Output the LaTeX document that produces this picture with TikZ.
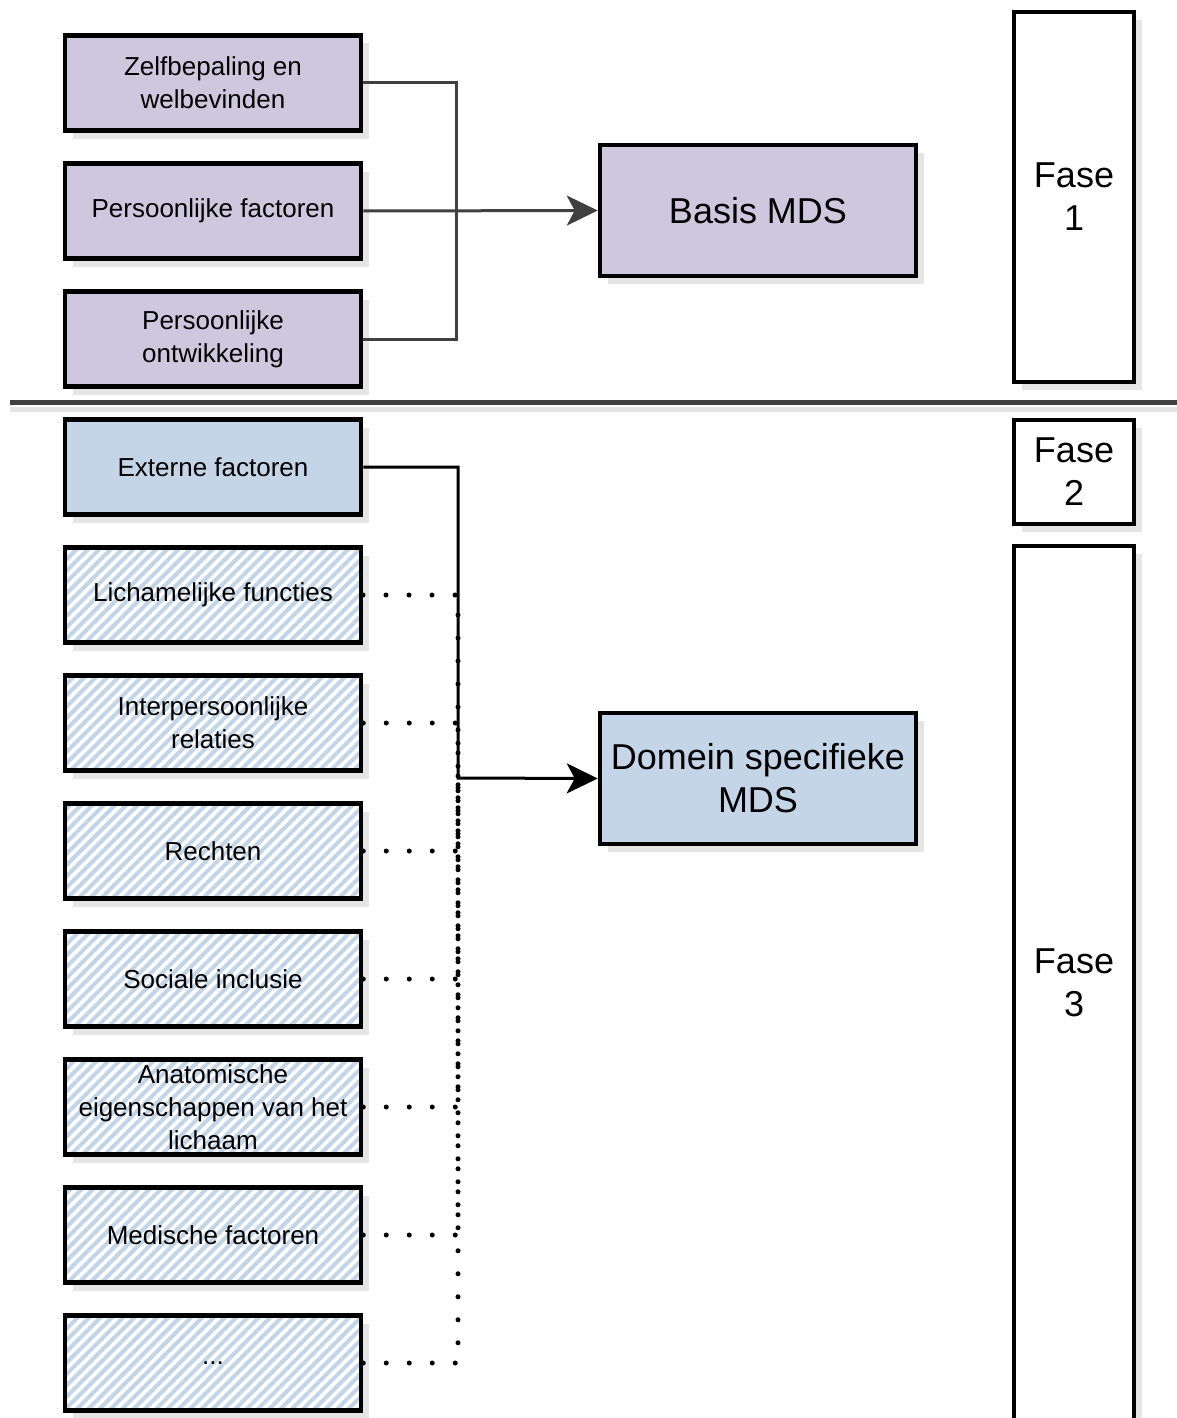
\documentclass[tikz,border=0pt]{standalone}
\usepackage{fontspec}
\setmainfont{Liberation Sans}
\usetikzlibrary{arrows.meta,shadows,patterns.meta}

\definecolor{lila}{RGB}{207,199,222}
\definecolor{lichtblauw}{RGB}{196,213,232}
\definecolor{streep}{RGB}{194,212,232}
\definecolor{donkergrijs}{RGB}{64,64,64}

\begin{document}
\begin{tikzpicture}[
  x=1pt, y=-1pt,
  box/.style={draw=black, line width=4.5pt, minimum width=296pt, minimum height=95pt,
              align=center, font=\fontsize{26}{33}\selectfont, inner sep=2pt,
              drop shadow={fill=black!10, shadow xshift=8pt, shadow yshift=-8pt, opacity=1}},
  pers/.style={box, fill=lila},
  ext/.style={box, fill=lichtblauw},
  hatch/.style={box, preaction={fill=white},
                pattern={Lines[angle=45, distance=8pt, line width=4pt]}, pattern color=streep},
  mds/.style={box, minimum width=316pt, minimum height=131pt, font=\fontsize{36}{43}\selectfont},
  fase/.style={box, fill=white, minimum width=120pt, font=\fontsize{36}{43}\selectfont},
  link/.style={donkergrijs, line width=3pt},
  arr/.style={-{Stealth[length=31pt, width=30pt, inset=8pt]}},
  dotlink/.style={line width=5pt, line cap=round, dash pattern=on 0pt off 23pt}
]
\useasboundingbox (0,0) rectangle (1177,1418);

% fase 1
\node[pers] (zelf) at (213,83) {Zelfbepaling en\\welbevinden};
\node[pers] (pfact) at (213,211) {Persoonlijke factoren};
\node[pers] (ontw) at (213,339) {Persoonlijke\\ontwikkeling};
\node[mds, fill=lila] (basis) at (758,210.5) {Basis MDS};
\node[fase, minimum height=370pt] (fase1) at (1074,197) {Fase\\1};

% scheiding
\draw[black!10, line width=5pt] (10,409) -- (1177,409);
\draw[donkergrijs, line width=5pt] (10,402) -- (1177,402);

% fase 2 en 3
\node[ext] (extern) at (213,467) {Externe factoren};
\node[hatch] (lich) at (213,595) {Lichamelijke functies};
\node[hatch] (inter) at (213,723) {Interpersoonlijke\\relaties};
\node[hatch] (recht) at (213,851) {Rechten};
\node[hatch] (soc) at (213,979) {Sociale inclusie};
\node[hatch] (anat) at (213,1107) {Anatomische\\eigenschappen van het\\lichaam};
\node[hatch] (med) at (213,1235) {Medische factoren};
\node[hatch] (meer) at (213,1363) {...};
\node[mds, fill=lichtblauw] (domein) at (758,778.5) {Domein specifieke\\MDS};
\node[fase, minimum height=104pt] (fase2) at (1074,472) {Fase\\2};
\node[fase, minimum height=874pt] (fase3) at (1074,983) {Fase\\3};

% verbindingen
\coordinate (topjoin) at (456,211);
\coordinate (botjoin) at (458,778);
\draw[link] (zelf.east) -| (topjoin) |- (ontw.east);
\draw[link, arr] (pfact.east) -- (basis.west);
\foreach \n in {lich,inter,recht,soc,anat,med,meer}
  \draw[dotlink] (\n.east) -| (botjoin);
\draw[line width=3pt, arr] (extern.east) -| (botjoin) -- (domein.west);
\end{tikzpicture}
\end{document}
